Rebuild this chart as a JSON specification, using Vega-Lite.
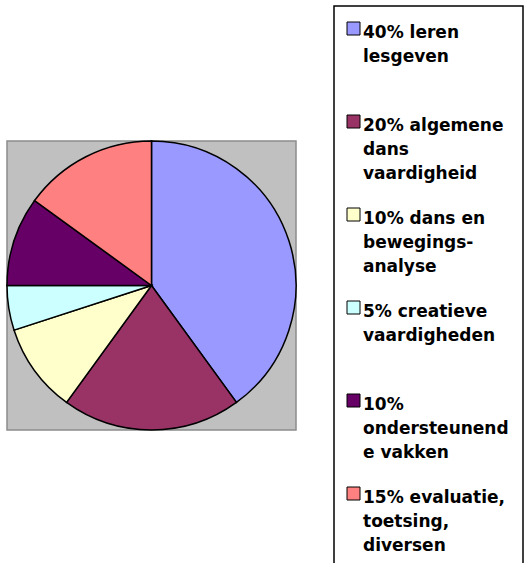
{
  "$schema": "https://vega.github.io/schema/vega-lite/v6.json",
  "width": 289,
  "height": 289,
  "autosize": {"type": "none"},
  "padding": {"left": 7, "top": 141, "right": 228, "bottom": 133},
  "background": "white",
  "view": {"fill": "#C0C0C0", "stroke": "#8c8c8c", "strokeWidth": 1.5},
  "data": {
    "values": [
      {"idx": 1, "label": "40% leren\nlesgeven", "value": 40},
      {"idx": 2, "label": "20% algemene\ndans\nvaardigheid", "value": 20},
      {"idx": 3, "label": "10% dans en\nbewegings-\nanalyse", "value": 10},
      {"idx": 4, "label": "5% creatieve\nvaardigheden", "value": 5},
      {"idx": 5, "label": "10%\nondersteunend\ne vakken", "value": 10},
      {"idx": 6, "label": "15% evaluatie,\ntoetsing,\ndiversen", "value": 15}
    ]
  },
  "mark": {"type": "arc", "stroke": "black", "strokeWidth": 1.5},
  "encoding": {
    "theta": {"field": "value", "type": "quantitative", "stack": true},
    "order": {"field": "idx", "type": "quantitative"},
    "color": {
      "field": "label",
      "type": "nominal",
      "scale": {
        "domain": [
          "40% leren\nlesgeven",
          "20% algemene\ndans\nvaardigheid",
          "10% dans en\nbewegings-\nanalyse",
          "5% creatieve\nvaardigheden",
          "10%\nondersteunend\ne vakken",
          "15% evaluatie,\ntoetsing,\ndiversen"
        ],
        "range": ["#9999FF", "#993366", "#FFFFCC", "#CCFFFF", "#660066", "#FF8080"]
      },
      "legend": {
        "title": null,
        "orient": "none",
        "legendX": 327,
        "legendY": -135,
        "labelExpr": "split(datum.label + (length(split(datum.label, '\\n')) < 3 ? '\\n' : '') + '\\n\u00a0\u00a0\u00a0\u00a0\u00a0\u00a0\u00a0\u00a0\u00a0\u00a0\u00a0\u00a0\u00a0\u00a0\u00a0\u00a0\u00a0\u00a0\u00a0\u00a0\u00a0\u00a0\u00a0\u00a0\u00a0\u00a0\u200b', '\\n')",
        "encode": {"labels": {"update": {"lineHeight": {"value": 24}, "dy": {"value": -4}}}}
      }
    }
  },
  "config": {
    "legend": {
      "strokeColor": "black",
      "strokeWidth": 1.5,
      "fillColor": "white",
      "padding": 14,
      "symbolType": "square",
      "symbolSize": 169,
      "symbolStrokeColor": "black",
      "symbolStrokeWidth": 1,
      "symbolOpacity": 1,
      "symbolOffset": -3,
      "labelFont": "DejaVu Sans",
      "labelFontWeight": "bold",
      "labelFontSize": 17,
      "labelColor": "black",
      "labelLimit": 1000,
      "labelBaseline": "top",
      "labelOffset": 1,
      "rowPadding": -1
    }
  }
}
